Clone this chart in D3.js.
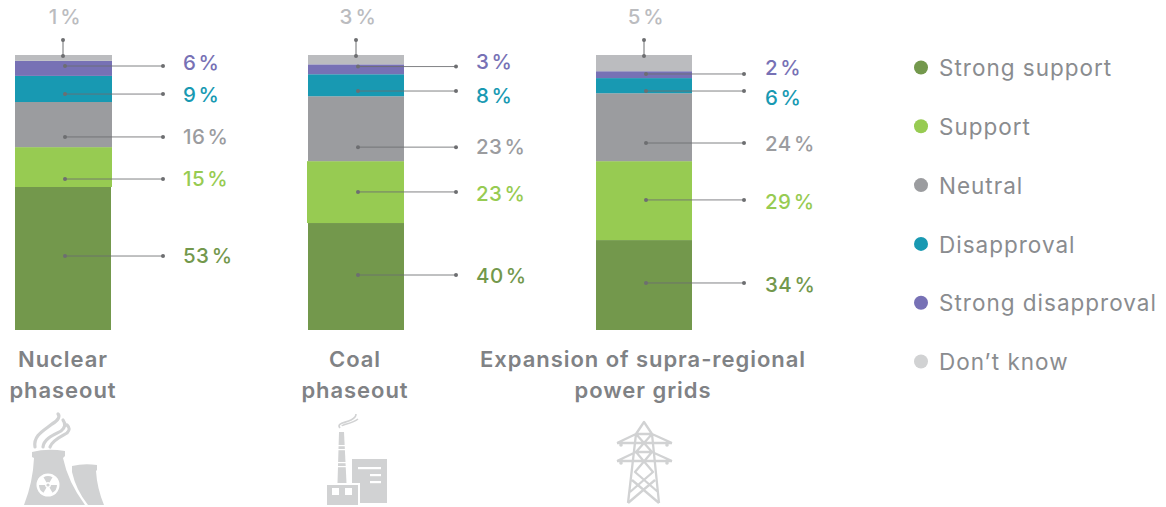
<!DOCTYPE html>
<html><head><meta charset="utf-8">
<script src="https://cdn.jsdelivr.net/npm/d3@7"></script>
<style>html,body{margin:0;background:#fff}svg{display:block}text{font-family:Inter,"Open Sans",sans-serif}</style>
</head><body><svg id="c" width="1166" height="507"></svg>
<script>
const legendNames=["Strong support","Support","Neutral","Disapproval","Strong disapproval","Don’t know"];
const colors=["#73984c","#97cb52","#9b9c9f","#1899b2","#7771b5","#bbbcbf"];
const titles=[["Nuclear","phaseout"],["Coal","phaseout"],["Expansion of supra-regional","power grids"]];
// drawn segment shares (%)
const nuclearShares=[52,14.5,16.4,9.5,5.5,2.1];
const coalShares=[38.9,22.5,23.6,8,3.6,3.4];
const gridShares=[32.7,28.7,24.7,5.5,2.5,5.9];
// printed labels
const nuclearLabels=[53,15,16,9,6,1];
const coalLabels=[40,23,23,8,3,3];
const gridLabels=[34,29,24,6,2,5];
// leader and label heights on the % axis
const nuclearLeaders=[26.9,54.9,70.2,85.8,96];
const coalLeaders=[20,50.2,66.5,86.9,95.8];
const gridLeaders=[17.1,47.3,68,86.9,93.1];
const nuclearLabelAt=[26.9,54.9,70.5,85.5,97.1];
const coalLabelAt=[19.6,49.5,66.8,85.1,97.5];
const gridLabelAt=[16.4,46.8,67.6,84.4,95.3];
const barCentres=[63,356,644];

const svg=d3.select("#c");
const y=d3.scaleLinear().domain([0,100]).range([330,55]);
const labelColors=["#73984c","#97cb52","#9b9c9f","#1899b2","#7771b5"];
const groups=[
 {s:nuclearShares,l:nuclearLabels,lead:nuclearLeaders,at:nuclearLabelAt,lx:183},
 {s:coalShares,l:coalLabels,lead:coalLeaders,at:coalLabelAt,lx:476},
 {s:gridShares,l:gridLabels,lead:gridLeaders,at:gridLabelAt,lx:765}];
const lead="#6d6e71";
groups.forEach((g,i)=>{
 const cx=barCentres[i],x0=cx-48;
 let acc=0;
 g.s.forEach((v,k)=>{
  svg.append("rect").attr("x",x0-(i==1&&k==1?1:0)).attr("width",k===0?96:(i==1&&k==1?97:(i==0?97:96)))
   .attr("y",y(acc+v)).attr("height",y(acc)-y(acc+v)).attr("fill",colors[k]);
  acc+=v;
 });
 g.lead.forEach((v,k)=>{
  const yy=y(v);
  svg.append("line").attr("x1",cx+2).attr("x2",cx+100).attr("y1",yy).attr("y2",yy).attr("stroke",lead).attr("stroke-width",1).attr("opacity",.85);
  [cx+2,cx+100].forEach(px=>svg.append("circle").attr("cx",px).attr("cy",yy).attr("r",2).attr("fill",lead));
  svg.append("text").attr("x",g.lx).attr("y",y(g.at[k])).attr("dy","0.36em")
   .attr("font-size",20.5).attr("font-weight",500).attr("letter-spacing",0.45).attr("fill",labelColors[k])
   .text(g.l[k]+"\u200a%");
 });
 svg.append("line").attr("x1",cx).attr("x2",cx).attr("y1",40).attr("y2",55).attr("stroke",lead).attr("stroke-width",1);
 [40,56].forEach(py=>svg.append("circle").attr("cx",cx).attr("cy",py).attr("r",2).attr("fill",lead));
 svg.append("text").attr("x",cx+2).attr("y",17).attr("dy","0.36em").attr("text-anchor","middle")
  .attr("font-size",20.5).attr("font-weight",500).attr("letter-spacing",0.6).attr("fill","#bbbcbf").text(g.l[5]+"\u200a%");
 titles[i].forEach((t,k)=>svg.append("text").attr("x",[63,355,643][i]).attr("y",359+k*31).attr("dy","0.36em")
  .attr("text-anchor","middle").attr("font-size",22).attr("font-weight",600).attr("letter-spacing",0.95).attr("fill","#808285").text(t));
});
legendNames.forEach((n,i)=>{
 const ly=d3.scaleLinear().domain([0,5]).range([68,362])(i);
 svg.append("circle").attr("cx",921).attr("cy",ly-0.5).attr("r",7).attr("fill",i==5?"#d1d2d3":colors[i]);
 svg.append("text").attr("x",939).attr("y",ly).attr("dy","0.36em").attr("font-size",22.5).attr("letter-spacing",1).attr("fill","#8a8c8f").text(n);
});
// icons
const ic="#d1d2d3";
const icons=svg.append("g");
// nuclear
icons.append("path").attr("fill",ic).attr("d","M32 452 Q47 448 65 451 L65 456 L63 458 Q68 482 85 505 L24 505 Q33 482 34 458 L32 457Z");
icons.append("path").attr("fill",ic).attr("d","M72 466 Q84 463 97 465 L97 470 L96 471 Q97 488 104 505 L88 505 Q76 490 72 472Z");
icons.append("path").attr("fill","none").attr("stroke",ic).attr("stroke-width",3.2).attr("stroke-linecap","round").attr("d","M35 447 C33 435 45 430 52 424 C59 420 60 416 58 414 M43 447 C44 438 56 434 61 431 C65 428 66 424 63 420 M50 447 C52 440 62 436 67 433 C70 430 70 428 67 425");
icons.append("circle").attr("cx",48).attr("cy",485).attr("r",11.5).attr("fill","#fff");
icons.append("circle").attr("cx",48).attr("cy",485).attr("r",1.6).attr("fill",ic);
[[ -90],[30],[150]].forEach(([a])=>{
 const arc=d3.arc().innerRadius(3).outerRadius(9).startAngle((a+60)*Math.PI/180).endAngle((a+120)*Math.PI/180);
 icons.append("path").attr("transform","translate(48,485)").attr("fill",ic).attr("d",arc());
});
// factory
icons.append("path").attr("fill",ic).attr("d","M339 432 L344 432 L346.5 483 L337.5 483Z");
icons.append("rect").attr("x",327).attr("y",485).attr("width",31).attr("height",20).attr("fill",ic);
icons.append("path").attr("fill",ic).attr("d","M352 459 L387 459 L387 503 L360 503 L360 483 L352 483Z");
[[332],[345]].forEach(([x])=>icons.append("rect").attr("x",x).attr("y",488).attr("width",7).attr("height",7).attr("fill","#fff"));
[[[358,381,467]],[[370,381,474]],[[370,381,481]]].forEach(([[a,b,yy]])=>icons.append("rect").attr("x",a).attr("y",yy).attr("width",b-a).attr("height",2.2).attr("fill","#fff"));
[445,449,462,466].forEach(yy=>icons.append("rect").attr("x",334).attr("y",yy).attr("width",14).attr("height",1.2).attr("fill","#fff"));
icons.append("path").attr("fill","none").attr("stroke",ic).attr("stroke-width",1.6).attr("d","M340 428 C336 423 345 423 351 420 C355 418 356 416 356 414 M342 426 C343 424 352 424 358 419");
// pylon
const py=icons.append("path").attr("fill","none").attr("stroke",ic).attr("stroke-width",2.3).attr("stroke-linejoin","round");
py.attr("d","M628 503 L636 434 L644 422 L652 434 L659 503 M636 434 L652 434 M617 443 L636 434 M652 434 L672 443 M617 443 L672 443 M617 461 L636 452 L652 452 L672 461 M617 461 L672 461 M636 434 L652 452 M652 434 L636 452 M636 452 L653 472 L630 492 M652 452 L635 472 L658 492 M628 503 L655 480 M659 503 L632 480");
[[621,445],[667,445],[621,463],[667,463]].forEach(([a,b])=>icons.append("circle").attr("cx",a).attr("cy",b).attr("r",1.8).attr("fill",ic));
</script></body></html>
